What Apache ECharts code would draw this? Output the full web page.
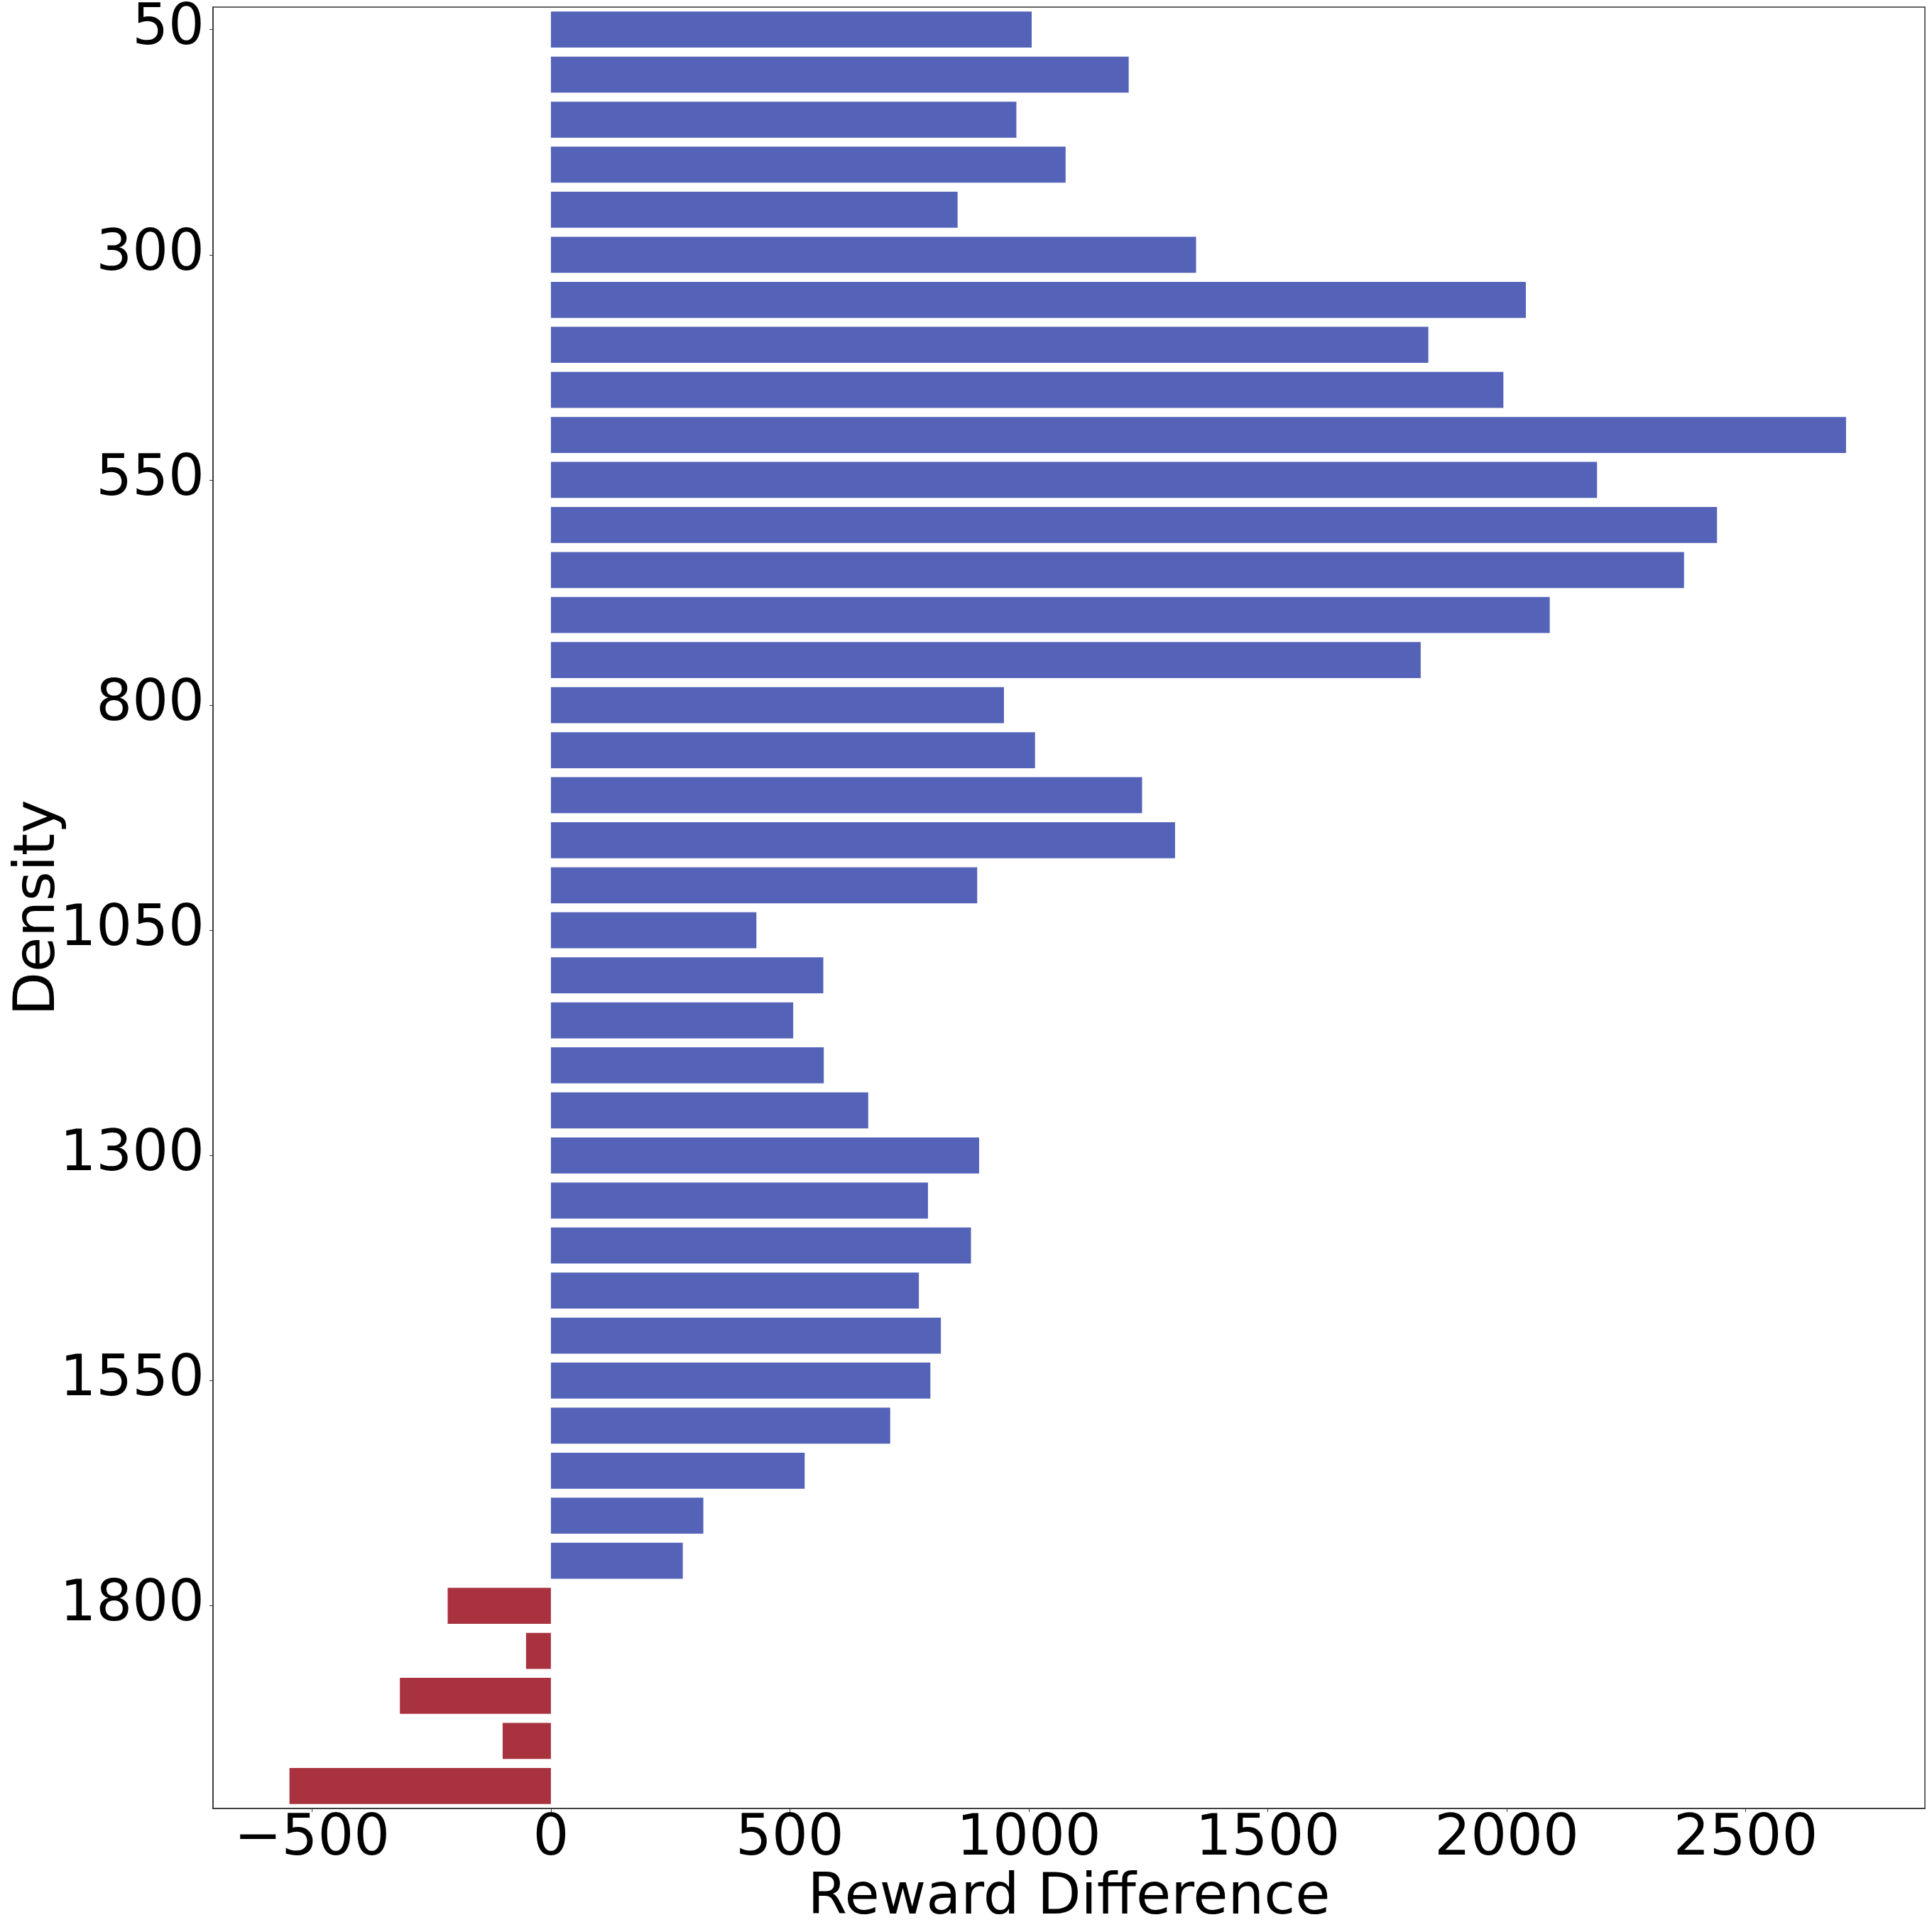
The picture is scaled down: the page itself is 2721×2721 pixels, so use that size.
<!DOCTYPE html>
<html>
<head>
<meta charset="utf-8">
<script src="https://cdn.jsdelivr.net/npm/echarts@6/dist/echarts.min.js"></script>
<style>
html,body{margin:0;padding:0;background:#fff;}
#chart{width:2721px;height:2721px;}
</style>
</head>
<body>
<div id="chart"></div>
<script>
const densities = ['50','100','150','200','250','300','350','400','450','500',
  '550','600','650','700','750','800','850','900','950','1000',
  '1050','1100','1150','1200','1250','1300','1350','1400','1450','1500',
  '1550','1600','1650','1700','1750','1800','1850','1900','1950','2000'];
const rewardDiff = [1006,1209,974,1077,851,1350,2040,1836,1993,2710,
  2189,2440,2371,2090,1820,948,1013,1237,1306,892,
  430,570,507,571,664,896,789,879,770,816,
  794,710,531,319,276,-216,-52,-316,-101,-547];
const xMin = -707, xMax = 2875;

const POS = '#5463B8', NEG = '#A8323E';
const FONT = 'DejaVu Sans';

const chart = echarts.init(document.getElementById('chart'), null, {renderer:'canvas'});
chart.setOption({
  animation: false,
  backgroundColor: '#ffffff',
  grid: {left: 300, right: 10, top: 10, bottom: 174, containLabel: false, outerBoundsMode: 'none',
         show: true, borderColor: '#333', borderWidth: 1.5, backgroundColor: 'transparent'},
  xAxis: {
    type: 'value', min: xMin, max: xMax, splitNumber: 7,
    name: 'Reward Difference', nameLocation: 'middle', nameGap: 87, nameMoveOverlap: false,
    nameTextStyle: {fontFamily: FONT, fontSize: 80, color: '#000'},
    axisLine: {show: true, onZero: false, lineStyle: {color: '#333', width: 1.5}},
    axisTick: {show: true, length: 5, lineStyle: {color: '#333', width: 1}},
    splitLine: {show: false},
    axisLabel: {show: true, fontFamily: FONT, fontSize: 80, color: '#000', margin: 4,
      showMinLabel: false, showMaxLabel: false,
      formatter: v => String(v).replace('-', '\u2212')}
  },
  yAxis: {
    type: 'category', data: densities, inverse: true,
    name: 'Density', nameLocation: 'middle', nameGap: 205, nameRotate: 90, nameMoveOverlap: false,
    nameTextStyle: {fontFamily: FONT, fontSize: 80, color: '#000'},
    axisLine: {show: true, onZero: false, lineStyle: {color: '#333', width: 1.5}},
    axisTick: {show: true, length: 5, interval: 4, alignWithLabel: true, lineStyle: {color: '#333', width: 1}},
    splitLine: {show: false},
    axisLabel: {show: true, interval: 4, fontFamily: FONT, fontSize: 80, color: '#000', margin: 12,
      padding: [10, 0, 0, 0]}
  },
  series: [{
    type: 'bar',
    data: rewardDiff,
    barWidth: '80%',
    itemStyle: {color: p => (p.value < 0 ? NEG : POS)}
  }]
});
</script>
</body>
</html>
